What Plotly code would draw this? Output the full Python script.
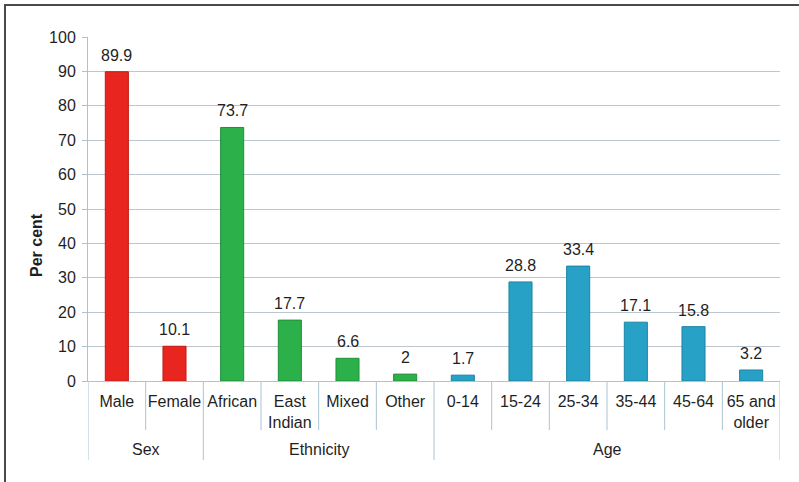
import plotly.graph_objects as go

# Survey breakdown by sex, ethnicity and age group (per cent)
categories = ["Male", "Female", "African", "East Indian", "Mixed", "Other",
              "0-14", "15-24", "25-34", "35-44", "45-64", "65 and older"]
tick_labels = ["Male", "Female", "African", "East<br>Indian", "Mixed", "Other",
               "0-14", "15-24", "25-34", "35-44", "45-64", "65 and<br>older"]
groups = ["Sex", "Sex", "Ethnicity", "Ethnicity", "Ethnicity", "Ethnicity",
          "Age", "Age", "Age", "Age", "Age", "Age"]
values = [89.9, 10.1, 73.7, 17.7, 6.6, 2, 1.7, 28.8, 33.4, 17.1, 15.8, 3.2]
y_ticks = [0, 10, 20, 30, 40, 50, 60, 70, 80, 90, 100]

group_colors = {"Sex": "#e8261f", "Ethnicity": "#2cb04a", "Age": "#27a1c6"}
group_edges = {"Sex": "#c01a14", "Ethnicity": "#1f8f3a", "Age": "#1d84a5"}

FONT = "Liberation Sans, Arial, sans-serif"
TEXT = "#1f1f1f"
RULE = "#a9c5d2"

fig = go.Figure(go.Bar(
    x=categories,
    y=values,
    width=0.4,
    marker=dict(color=[group_colors[g] for g in groups],
                line=dict(color=[group_edges[g] for g in groups], width=1)),
    cliponaxis=False,
    hoverinfo="skip",
))

L, R, T, B = 88, 19, 37, 101
plot_h = 482 - T - B
plot_w = 799 - L - R

def px_to_paper_y(py):
    return (482 - B - py) / plot_h

def px_to_paper_x(px):
    return (px - L) / plot_w

shapes = []
# category and group separators below the axis
n = len(categories)
for i in range(n + 1):
    is_group_edge = i == 0 or i == n or groups[i] != groups[i - 1]
    bottom = px_to_paper_y(460 if is_group_edge else 430)
    shapes.append(dict(type="line", xref="x", yref="paper",
                       x0=i - 0.5, x1=i - 0.5, y0=0, y1=bottom,
                       line=dict(color=RULE, width=1)))

# outer frame
shapes.append(dict(type="rect", xref="paper", yref="paper",
                   x0=px_to_paper_x(5), x1=px_to_paper_x(830),
                   y0=px_to_paper_y(520), y1=px_to_paper_y(5),
                   line=dict(color="#4a4a4a", width=2), fillcolor="rgba(0,0,0,0)"))

annotations = []
# value labels above each bar
for c, v in zip(categories, values):
    annotations.append(dict(x=c, y=v, xref="x", yref="y", text=f"{v:g}",
                            showarrow=False, yanchor="bottom", yshift=6,
                            font=dict(family=FONT, size=16, color=TEXT)))

seen = []
for g in groups:
    if g not in seen:
        seen.append(g)
for g in seen:
    idx = [i for i, gg in enumerate(groups) if gg == g]
    annotations.append(dict(x=sum(idx) / len(idx), y=px_to_paper_y(450),
                            xref="x", yref="paper", text=g, showarrow=False,
                            yanchor="middle", font=dict(family=FONT, size=16, color=TEXT)))

annotations.append(dict(x=px_to_paper_x(36), y=px_to_paper_y(245),
                        xref="paper", yref="paper", text="<b>Per cent</b>",
                        textangle=-90, showarrow=False,
                        xanchor="center", yanchor="middle",
                        font=dict(family=FONT, size=16, color=TEXT)))

fig.update_layout(
    width=799, height=482,
    margin=dict(l=L, r=R, t=T, b=B, autoexpand=False),
    paper_bgcolor="white", plot_bgcolor="white",
    showlegend=False,
    font=dict(family=FONT, size=16, color=TEXT),
    shapes=shapes,
    annotations=annotations,
    xaxis=dict(
        type="category",
        tickmode="array", tickvals=categories, ticktext=tick_labels,
        ticks="", showgrid=False,
        showline=True, linecolor=RULE, linewidth=1,
        tickfont=dict(family=FONT, size=16, color=TEXT),
        ticklabelstandoff=6,
        range=[-0.5, n - 0.5],
        fixedrange=True,
    ),
    yaxis=dict(
        range=[0, 100],
        tickmode="array", tickvals=y_ticks,
        ticks="outside", ticklen=5, tickcolor=RULE,
        showgrid=True, gridcolor="#bcc6cc", gridwidth=1,
        showline=True, linecolor=RULE, linewidth=1,
        zeroline=False,
        tickfont=dict(family=FONT, size=16, color=TEXT),
        ticklabelstandoff=3,
        fixedrange=True,
    ),
)

fig.write_html("out.html")
